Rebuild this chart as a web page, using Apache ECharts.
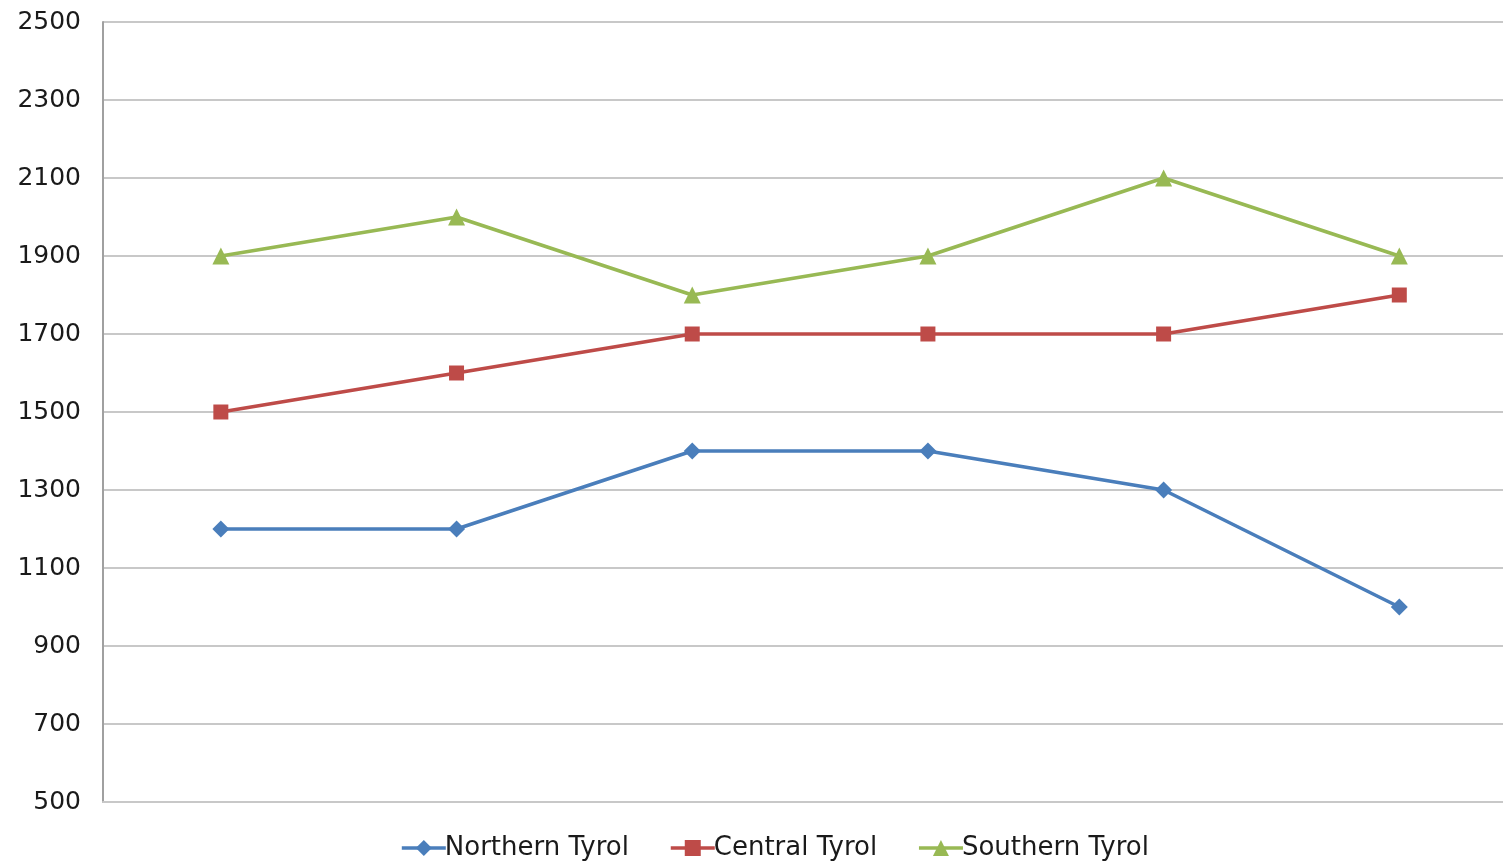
<!DOCTYPE html>
<html>
<head>
<meta charset="utf-8">
<script src="https://cdn.jsdelivr.net/npm/echarts@6/dist/echarts.min.js"></script>
<style>
  html, body { margin: 0; padding: 0; background: #ffffff; }
  #chart { width: 1503px; height: 864px; }
</style>
</head>
<body>
<div id="chart"></div>
<script>
// Six sampling points along the x axis (unlabelled)
const categories = ['1', '2', '3', '4', '5', '6'];

const northernTyrol = [1200, 1200, 1400, 1400, 1300, 1000];
const centralTyrol  = [1500, 1600, 1700, 1700, 1700, 1800];
const southernTyrol = [1900, 2000, 1800, 1900, 2100, 1900];

const yMin = 500, yMax = 2500, yStep = 200;

const FONT = 'DejaVu Sans';

// The plot runs on past the right edge of the canvas, so the x axis is a
// numeric index axis: half a slot of padding on the left, cut off at the right.
const xMin = -0.5, xMax = 5.44;

function toPairs(values) {
  return values.map(function (v, i) { return [i, v]; });
}

function lineSeries(name, data, color, symbol, size) {
  return {
    name: name,
    type: 'line',
    data: toPairs(data),
    symbol: symbol,
    symbolSize: size,
    showSymbol: true,
    lineStyle: { color: color, width: 3.6 },
    itemStyle: { color: color },
    emphasis: { disabled: true },
    animation: false
  };
}

const chart = echarts.init(document.getElementById('chart'), null, { renderer: 'canvas' });
chart.setOption({
  backgroundColor: '#ffffff',
  textStyle: { fontFamily: FONT },
  grid: { left: 103, right: 0, top: 22, bottom: 62, containLabel: false },
  xAxis: {
    type: 'value',
    min: xMin,
    max: xMax,
    axisLine: { show: true, onZero: false, lineStyle: { color: '#c8c8c8', width: 2 } },
    axisTick: { show: false },
    axisLabel: { show: false },
    splitLine: { show: false }
  },
  yAxis: {
    type: 'value',
    min: yMin,
    max: yMax,
    interval: yStep,
    axisLine: { show: true, onZero: false, lineStyle: { color: '#a0a0a0', width: 2 } },
    axisTick: { show: false },
    axisLabel: {
      color: '#1a1a1a', fontSize: 25, fontFamily: FONT, margin: 22,
      formatter: function (v) { return String(v); }
    },
    splitLine: { show: true, lineStyle: { color: '#c8c8c8', width: 2 } }
  },
  legend: {
    bottom: -2,
    left: 395,
    itemGap: 40,
    itemWidth: 44,
    itemHeight: 20,
    lineStyle: { width: 3.6 },
    textStyle: { color: '#1a1a1a', fontSize: 26, fontFamily: FONT, padding: [0, 0, 0, -6] },
    data: ['Northern Tyrol', 'Central Tyrol', 'Southern Tyrol']
  },
  series: [
    lineSeries('Northern Tyrol', northernTyrol, '#4a7ebb', 'diamond', 17),
    lineSeries('Central Tyrol', centralTyrol, '#be4b48', 'rect', 15),
    lineSeries('Southern Tyrol', southernTyrol, '#98b954', 'triangle', 17)
  ]
});
</script>
</body>
</html>
